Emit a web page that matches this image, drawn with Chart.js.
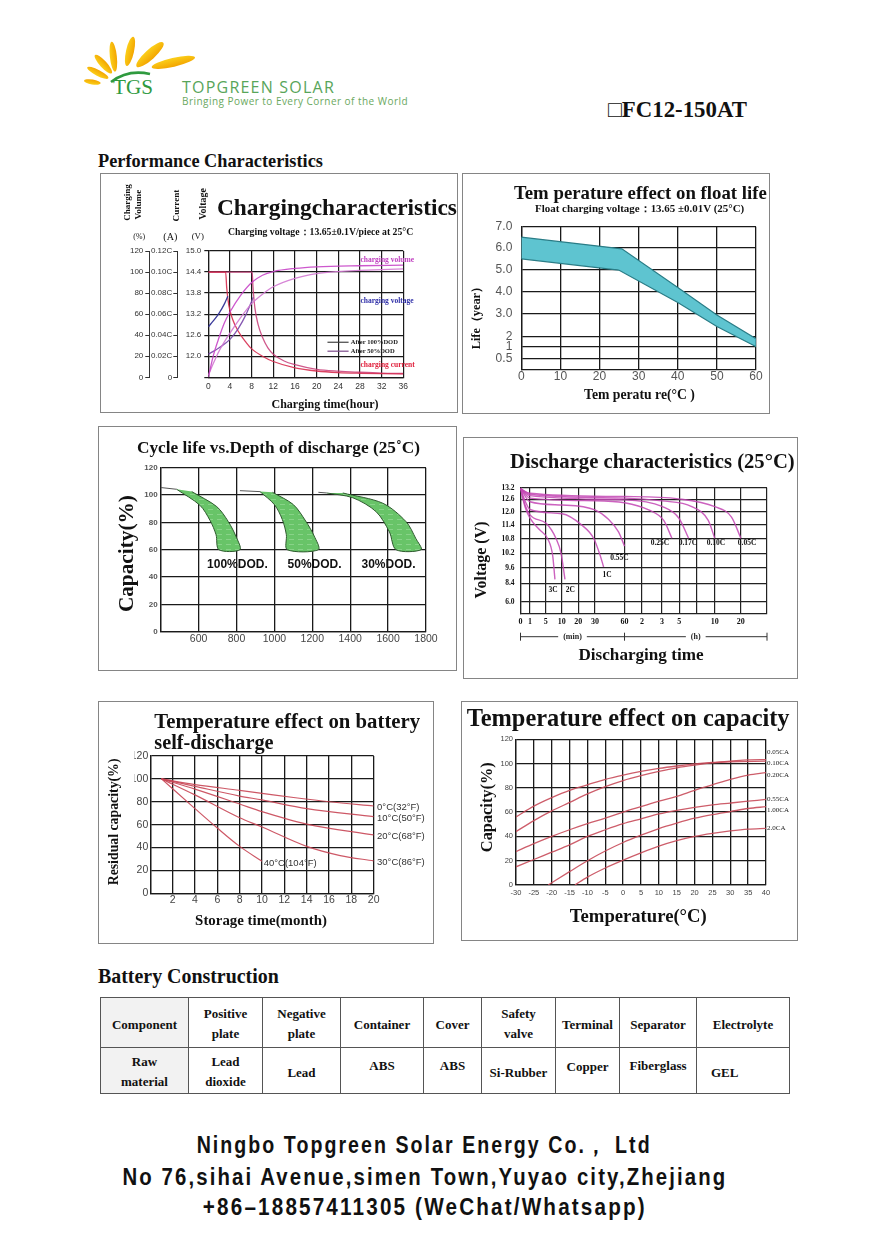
<!DOCTYPE html>
<html><head><meta charset="utf-8">
<script src="https://cdn.jsdelivr.net/npm/chart.js@4.4.0/dist/chart.umd.min.js"></script>
<style>
html,body{margin:0;padding:0;background:#fff;}
body{width:889px;height:1257px;position:relative;overflow:hidden;}
.abs{position:absolute;white-space:nowrap;line-height:1;}
.panel{position:absolute;border:1.5px solid #858585;box-sizing:border-box;}
canvas{position:absolute;}
#tbl{position:absolute;left:100px;top:997px;width:689px;border-collapse:collapse;table-layout:fixed;font-family:"Liberation Serif","Times New Roman",serif;font-weight:bold;font-size:13px;color:#111;}
#tbl td{border:1.5px solid #555;text-align:center;vertical-align:middle;line-height:20px;padding:0;}
#tbl tr.h td{height:49px;}
#tbl tr.d td{height:45px;}
#tbl td.g{background:#f2f2f2;}
#tbl span{position:relative;display:inline-block;}
</style></head>
<body>
<script>
// ===================== DATA =====================
// Charging characteristics (x: hours)
const chgVolumeA = [[0,0],[1,22],[2,38],[3,52],[4,62],[6,78],[8,90],[10,97],[12,100.5],[16,103.5],[20,105],[28,106],[36,106.5]];
const chgVolumeB = [[0,2],[1,14],[2,25],[4,42],[6,57],[8,70],[10,79],[12,86],[16,94],[20,98.5],[24,100.5],[28,101.5],[36,103]];
const chgVoltageA = [[0,12.84],[1,13.02],[2,13.23],[3,13.5],[3.6,13.71]];
const chgVoltageB = [[0,12.06],[2,12.24],[4,12.48],[5.5,12.78],[7,13.2],[8.3,13.68]];
const chgCurrentA = [[0,0.100],[3.2,0.100],[3.4,0.085],[3.8,0.068],[4.5,0.055],[5.5,0.044],[7,0.033],[8,0.027],[10,0.020],[12,0.015],[16,0.009],[20,0.006],[24,0.0045],[28,0.0038],[32,0.0034],[36,0.0032]];
const chgCurrentB = [[0,0.100],[8.1,0.100],[8.25,0.086],[8.6,0.066],[9.2,0.050],[10,0.038],[11,0.028],[12,0.022],[14,0.0155],[16,0.012],[20,0.0076],[24,0.0058],[28,0.0048],[32,0.004],[36,0.0036]];
const volumeTicks = [0,20,40,60,80,100,120];
const currentTicks = [0,0.02,0.04,0.06,0.08,0.10,0.12];
const currentTickLabels = ['0','0.02C','0.04C','0.06C','0.08C','0.10C','0.12C'];
const voltTicks = [11.4,12.0,12.6,13.2,13.8,14.4,15.0];
const voltTickLabels = ['','12.0','12.6','13.2','13.8','14.4','15.0'];

// Temperature effect on float life (x: °C, y: years)
const floatUpper = [[0,6.5],[25.7,5.95],[40,4.2],[50,2.93],[60,1.8]];
const floatLower = [[0,5.5],[24.9,5.0],[40,3.5],[50,2.43],[60,1.0]];
const floatTicks = [0.5,1,2,3,4,5,6,7];
const floatTickLabels = ['0.5','1','2','3.0','4.0','5.0','6.0','7.0'];

// Cycle life (x: cycles, y: capacity %)
const cyc100Left  = [[484,104.2],[607,92.5],[660,81.5],[692,71],[707,60]];
const cyc100Right = [[564,102.5],[696,91.5],[757,80.5],[798,69.5],[818,60]];
const cyc50Left   = [[924,102.5],[1000,93],[1042,82],[1063,71],[1068,60]];
const cyc50Right  = [[990,102],[1100,93],[1165,81],[1210,70],[1232,60]];
const cyc30Left   = [[1276,101.5],[1414,98],[1537,87.8],[1607,73],[1642,60]];
const cyc30Right  = [[1361,101.5],[1572,94],[1695,80.5],[1747,68],[1774,60]];
const cycBaseline = [[[400,105.5],[484,104.2]],[[818,103.2],[924,102.5]],[[1232,102],[1276,101.5]]];

// Discharge characteristics (x: minutes, y: volts)
const dis3C   = [[0,13.15],[0.5,12.2],[1,11.7],[3.4,11.2],[5.8,10.77],[7.2,10.1],[7.9,8.7]];
const dis2C   = [[0,13.15],[0.5,12.3],[1,11.85],[5.3,11.45],[8.2,10.83],[9.8,10.2],[12,8.7]];
const dis1C   = [[0,13.15],[0.5,12.5],[1,12.1],[10.2,11.9],[22,11.4],[29.2,10.83],[35.4,10.1],[38.8,9.63]];
const dis055C = [[0,13.15],[1,12.48],[10.2,12.32],[30,12.08],[43.7,11.65],[53.9,11.1],[60,10.5]];
const dis025C = [[0,13.15],[1,12.66],[30,12.53],[60,12.43],[140,12.08],[192,11.6],[249,10.83]];
const dis017C = [[0,13.15],[1,12.79],[60,12.57],[180,12.25],[298,11.7],[364,10.83]];
const dis010C = [[0,13.15],[1,12.86],[60,12.66],[180,12.52],[386,12.24],[535,11.6],[600,10.83]];
const dis005C = [[0,13.15],[1,12.91],[60,12.74],[295,12.62],[600,12.24],[985,11.75],[1200,10.83]];
const disTimeTicks  = [0,1,5,10,20,30,60,120,180,300,420,600,1200,2400];
const disTimeLabels = ['0','1','5','10','20','30','60','2','3','5','','10','20',''];
const disVoltTicks = [6.0,8.4,9.6,10.2,10.8,11.4,12.0,12.6,13.2];

// Self-discharge (x: months, y: residual %)
const sd0C  = [[1,100],[4,95],[8,90],[10,87.4],[13,83.5],[16,80],[20,76.3]];
const sd10C = [[1,100],[4,93.5],[8,85],[10,81.6],[14,74],[20,67]];
const sd20C = [[1,100],[4,91],[8,78],[10,71.4],[14,60.5],[20,51]];
const sd30C = [[1,100],[4,86],[8,66],[10,58],[14,41],[17,33],[20,28.3]];
const sd40C = [[1,100],[4,74],[6,57],[8,41],[10,28]];

// Temperature effect on capacity (x: °C, y: %)
const tc005 = [[-30,56],[-25,65],[-20,72],[-15,78],[-10,82.5],[-5,87],[0,90.5],[5,93.5],[10,96],[15,98],[20,99.7],[25,101],[30,102],[35,103],[40,103.3]];
const tc010 = [[-30,44],[-25,53],[-20,61],[-15,68],[-10,75],[-5,81],[0,86],[5,90],[10,93.5],[15,96.5],[20,98.7],[25,100.5],[30,101.5],[40,102]];
const tc020 = [[-30,27.5],[-25,34],[-20,40],[-15,45.5],[-10,50.5],[-5,55],[0,60],[5,64.5],[10,69],[15,73],[20,78],[25,82.5],[30,87],[35,90.5],[40,92.5]];
const tc055 = [[-30,15],[-25,21],[-20,27],[-15,33],[-10,40],[-5,45.5],[0,50.5],[5,54.5],[10,58.5],[15,61.5],[20,64],[25,66],[30,67.5],[35,69],[40,70.5]];
const tc100 = [[-21,0],[-15,11],[-10,20],[-5,28],[0,35],[5,41],[10,46.5],[15,51],[20,55],[25,58],[30,60.5],[35,63],[40,64.5]];
const tc200 = [[-13.5,0],[-10,6.5],[-5,14],[0,20.5],[5,26.5],[10,32],[15,36.5],[20,40],[25,42.5],[30,44.5],[35,46],[40,46.7]];

// ===================== LAYOUT / STYLE =====================
const SERIF = '"Liberation Serif","Times New Roman",serif';
const SANS = '"Liberation Sans",Arial,sans-serif';
const NARROW = '"Liberation Sans Narrow","Liberation Sans",Arial,sans-serif';
Chart.defaults.font.family = SANS;
Chart.defaults.animation = false;

// non-linear axes of the original drawings: value -> fraction of axis length
const KNOTS = {
  floatY: [[0,0],[0.5,0.077],[1,0.159],[2,0.229],[3,0.393],[4,0.544],[5,0.696],[6,0.853],[7,1]],
  disX: [[0,0],[1,0.0385],[5,0.102],[10,0.167],[20,0.234],[30,0.302],[60,0.422],[120,0.493],[180,0.574],[300,0.644],[420,0.715],[600,0.788],[1200,0.894],[2400,1]],
  disY: [[4.5,0],[6.0,0.092],[8.4,0.239],[9.6,0.363],[10.2,0.478],[10.8,0.592],[11.4,0.704],[12.0,0.810],[12.6,0.908],[13.2,1]]
};
class WarpScale extends Chart.LinearScale {
  static id = 'warp';
  static defaults = {};
  _interp(v, a, b) {
    const k = KNOTS[this.options.knotSet];
    let i = 1; while (i < k.length - 1 && v > k[i][a]) i++;
    const p = k[i-1], q = k[i];
    return p[b] + (v - p[a]) * (q[b] - p[b]) / (q[a] - p[a]);
  }
  getPixelForValue(v) {
    if (v === null || v === undefined || isNaN(v)) return NaN;
    return this.getPixelForDecimal(this._interp(v, 0, 1));
  }
  getValueForPixel(px) { return this._interp(this.getDecimalForPixel(px), 1, 0); }
}
Chart.register(WarpScale);

const fixW = w => s => { s.width = w; s.paddingTop = s.paddingBottom = s.paddingLeft = s.paddingRight = 0; };
const fixH = h => s => { s.height = h; s.paddingTop = s.paddingBottom = s.paddingLeft = s.paddingRight = 0; };
const setTicks = arr => s => { s.ticks = arr.map(v => ({value: v})); };

function panel(x, y, w, h) {
  const d = document.createElement('div'); d.className = 'panel';
  Object.assign(d.style, {left: x+'px', top: y+'px', width: w+'px', height: h+'px'});
  document.body.appendChild(d);
}
function notes(items) {
  return { id: 'notes', afterDatasetsDraw(chart) {
    const ctx = chart.ctx; ctx.save();
    for (const it of items) {
      const xs = chart.scales[it.xs || 'x'], ys = chart.scales[it.ys || 'y'];
      const px = xs.getPixelForValue(it.x), py = ys.getPixelForValue(it.y);
      if (it.x2 !== undefined) {
        ctx.strokeStyle = it.lc; ctx.lineWidth = 1.2; ctx.beginPath();
        ctx.moveTo(px, py); ctx.lineTo(xs.getPixelForValue(it.x2), py); ctx.stroke();
      }
      if (it.t) {
        ctx.font = it.f; ctx.fillStyle = it.c || '#222'; ctx.textAlign = it.al || 'left'; ctx.textBaseline = 'middle';
        ctx.fillText(it.t, px, py);
      }
    }
    ctx.restore();
  }};
}
function mk(rect, area, wy, hx, cfg, plugins) {
  const c = document.createElement('canvas');
  c.width = rect[2]; c.height = rect[3];
  Object.assign(c.style, {left: rect[0]+'px', top: rect[1]+'px', width: rect[2]+'px', height: rect[3]+'px'});
  document.body.appendChild(c);
  cfg.options = Object.assign({
    responsive: false, animation: false, events: [],
    layout: {padding: {left: area[0]-rect[0]-wy, top: area[1]-rect[1], right: rect[0]+rect[2]-area[2], bottom: rect[1]+rect[3]-area[3]-hx}},
    plugins: {legend: {display: false}, tooltip: {enabled: false}},
    elements: {point: {radius: 0}}
  }, cfg.options || {});
  cfg.plugins = plugins || [];
  return new Chart(c, cfg);
}
const G = (c, lw, extra) => Object.assign({color: c || '#1a1a1a', lineWidth: lw || 1.2, drawTicks: false}, extra || {});
const B = (c, w) => ({color: c || '#1a1a1a', width: w || 1.2});
const line = (data, color, w, extra) => Object.assign({data, borderColor: color, borderWidth: w || 1.2, pointRadius: 0, fill: false, cubicInterpolationMode: 'monotone'}, extra || {});

// panels
panel(100,173,358,240); panel(462,173,308,241); panel(98,425.5,359,245.5);
panel(463,436.5,335,242); panel(97.5,700.5,336.5,243); panel(460.5,700.5,337,240);

// ---------- Chart 1: charging ----------
const lblF1 = {size: 8, family: SANS};
mk([101,174,356,238],[208.3,251,403.3,377.3],88,16,{
  type: 'line',
  data: {datasets: [
    line(chgVolumeA,'rgba(200,70,200,0.9)',1.3,{yAxisID:'yP'}),
    line(chgVolumeB,'rgba(210,120,210,0.9)',1.3,{yAxisID:'yP'}),
    line(chgVoltageA,'rgba(50,50,150,0.95)',1.3,{yAxisID:'yV'}),
    line(chgVoltageB,'rgba(120,70,170,0.9)',1.3,{yAxisID:'yV'}),
    line(chgCurrentA,'rgba(215,45,80,0.9)',1.3,{yAxisID:'yA'}),
    line(chgCurrentB,'rgba(200,60,120,0.85)',1.3,{yAxisID:'yA'})
  ]},
  options: {scales: {
    x: {type:'linear', min:0, max:36, ticks:{stepSize:4, color:'#333', font:{size:8.5, family:SANS}, padding:4, maxRotation:0, autoSkip:false}, grid:G(), border:B(), afterFit:fixH(16)},
    yV: {type:'linear', position:'left', weight:1, min:11.4, max:15.0, afterBuildTicks:setTicks(voltTicks), ticks:{callback:(v,i)=>voltTickLabels[i], color:'#333', font:lblF1, padding:3, autoSkip:false}, grid:G('#1a1a1a',1.2,{drawTicks:true, tickLength:4}), border:B(), afterFit:fixW(31)},
    yA: {type:'linear', position:'left', weight:2, min:0, max:0.12, afterBuildTicks:setTicks(currentTicks), ticks:{callback:(v,i)=>currentTickLabels[i], color:'#333', font:lblF1, padding:1, autoSkip:false}, grid:G('#333',1,{drawOnChartArea:false, drawTicks:true, tickLength:4}), border:B('#333',1), afterFit:fixW(28)},
    yP: {type:'linear', position:'left', weight:3, min:0, max:120, afterBuildTicks:setTicks(volumeTicks), ticks:{color:'#333', font:lblF1, padding:2, autoSkip:false}, grid:G('#333',1,{drawOnChartArea:false, drawTicks:true, tickLength:4}), border:B('#333',1), afterFit:fixW(29)}
  }}
},[notes([
  {x:28.1, y:111.4, ys:'yP', t:'charging volume', f:'bold 7.5px '+SERIF, c:'#c040c0'},
  {x:28.1, y:72.4, ys:'yP', t:'charging voltage', f:'bold 7.5px '+SERIF, c:'#3030a8'},
  {x:28.1, y:11.4, ys:'yP', t:'charging current', f:'bold 7.5px '+SERIF, c:'#e0203c'},
  {x:22.0, x2:25.9, y:33.3, ys:'yP', lc:'#444', t:'', f:''},
  {x:22.0, x2:25.9, y:24.8, ys:'yP', lc:'#7a4a8a', t:'', f:''},
  {x:26.3, y:33.3, ys:'yP', t:'After 100%DOD', f:'bold 6.5px '+SERIF, c:'#222'},
  {x:26.3, y:24.8, ys:'yP', t:'After 50%DOD', f:'bold 6.5px '+SERIF, c:'#222'}
])]);

// ---------- Chart 2: float life ----------
mk([464,174,305,238],[521.3,226.7,756,369.3],40,20,{
  type: 'line',
  data: {datasets: [
    {data: floatUpper.concat(floatLower.slice().reverse()), fill:'shape', backgroundColor:'#5ec4d0', borderColor:'#2a7d87', borderWidth:1.2, tension:0, pointRadius:0}
  ]},
  options: {scales: {
    x: {type:'linear', min:0, max:60, ticks:{stepSize:10, color:'#555', font:{size:12, family:SANS}, padding:0, maxRotation:0}, grid:G('#1a1a1a',1.3), border:B('#1a1a1a',1.3), afterFit:fixH(20)},
    y: {type:'warp', knotSet:'floatY', min:0, max:7, afterBuildTicks:setTicks(floatTicks), ticks:{callback:(v,i)=>floatTickLabels[i], color:'#555', font:{size:12, family:SANS}, padding:9, autoSkip:false}, grid:G('#1a1a1a',1.3), border:B('#1a1a1a',1.3), afterFit:fixW(40)}
  }}
});

// ---------- Chart 3: cycle life ----------
function hatch() {
  const c = document.createElement('canvas'); c.width = 9; c.height = 5;
  const g = c.getContext('2d'); g.fillStyle = '#68c468'; g.fillRect(0,0,9,5);
  g.fillStyle = 'rgba(220,250,220,0.28)'; g.fillRect(1,2,5,1);
  return g.createPattern(c, 'repeat');
}
const pat = hatch();
const band = (l, r) => ({data: l.concat(r.slice().reverse()), fill:'shape', backgroundColor:pat, borderColor:'#2f5a2f', borderWidth:1, tension:0.3, pointRadius:0});
mk([99,427,357,243],[160.7,467.7,426,631.7],20,16,{
  type: 'line',
  data: {datasets: [
    band(cyc100Left, cyc100Right), band(cyc50Left, cyc50Right), band(cyc30Left, cyc30Right),
    ...cycBaseline.map(seg => ({data: seg, borderColor:'#555', borderWidth:1, pointRadius:0, tension:0, fill:false}))
  ]},
  options: {scales: {
    x: {type:'linear', min:400, max:1800, ticks:{stepSize:200, callback:v=>v===400?'':v, color:'#444', font:{size:10.5, family:SANS}, padding:1, maxRotation:0, autoSkip:false}, grid:G('#1a1a1a',1.3), border:B('#1a1a1a',1.3), afterFit:fixH(16)},
    y: {type:'linear', min:0, max:120, ticks:{stepSize:20, color:'#555', font:{size:8, family:NARROW, weight:'bold'}, padding:3}, grid:G('#1a1a1a',1.3), border:B('#1a1a1a',1.3), afterFit:fixW(20)}
  }}
},[notes([
  {x:805, y:48.8, t:'100%DOD.', f:'bold 12px '+SANS, c:'#111', al:'center'},
  {x:1212, y:48.8, t:'50%DOD.', f:'bold 12px '+SANS, c:'#111', al:'center'},
  {x:1602, y:48.8, t:'30%DOD.', f:'bold 12px '+SANS, c:'#111', al:'center'}
])]);

// ---------- Chart 4: discharge ----------
const dc = 'rgba(195,70,180,0.85)';
const bracket = { id:'bracket', afterDraw(chart) {
  const ctx = chart.ctx, xs = chart.scales.x, a = chart.chartArea;
  const y = a.bottom + 23.4, x0 = xs.getPixelForValue(0), x1 = xs.getPixelForValue(60), x2 = a.right;
  ctx.save(); ctx.strokeStyle = '#333'; ctx.lineWidth = 1; ctx.font = 'bold 8px '+SERIF; ctx.fillStyle = '#222';
  ctx.textAlign = 'center'; ctx.textBaseline = 'middle';
  const seg = (l, r, t) => { const m = (l + r) / 2, hw = ctx.measureText(t).width / 2 + 5;
    ctx.beginPath(); ctx.moveTo(l, y); ctx.lineTo(m - hw, y); ctx.moveTo(m + hw, y); ctx.lineTo(r, y); ctx.stroke();
    ctx.fillText(t, m, y); };
  seg(x0, x1, '(min)'); seg(x1, x2, '(h)');
  ctx.beginPath(); for (const x of [x0, x1, x2]) { ctx.moveTo(x, y - 4); ctx.lineTo(x, y + 4); } ctx.stroke();
  ctx.restore();
}};
const dF = 'bold 7.5px '+SERIF;
mk([465,438,332,240],[520.5,487.7,767,613.3],22,14,{
  type: 'line',
  data: {datasets: [dis3C, dis2C, dis1C, dis055C, dis025C, dis017C, dis010C, dis005C].map(d => line(d, dc, 1.4))},
  options: {scales: {
    x: {type:'warp', knotSet:'disX', min:0, max:2400, afterBuildTicks:setTicks(disTimeTicks), ticks:{callback:(v,i)=>disTimeLabels[i], color:'#111', font:{size:8, family:SERIF, weight:'bold'}, padding:4, maxRotation:0, autoSkip:false}, grid:G('#222',1.2), border:B('#222',1.2), afterFit:fixH(14)},
    y: {type:'warp', knotSet:'disY', min:4.5, max:13.2, afterBuildTicks:setTicks(disVoltTicks), ticks:{callback:v=>v.toFixed(1), color:'#111', font:{size:7.5, family:SERIF, weight:'bold'}, padding:6, autoSkip:false}, grid:G('#222',1.2), border:B('#222',1.2), afterFit:fixW(22)}
  }}
},[bracket, notes([
  {x:174, y:10.63, t:'0.25C', f:dF, al:'center', c:'#111'},
  {x:360, y:10.63, t:'0.17C', f:dF, al:'center', c:'#111'},
  {x:628, y:10.63, t:'0.10C', f:dF, al:'center', c:'#111'},
  {x:1483, y:10.63, t:'0.05C', f:dF, al:'center', c:'#111'},
  {x:54.9, y:10.0, t:'0.55C', f:dF, al:'center', c:'#111'},
  {x:42.2, y:9.04, t:'1C', f:dF, al:'center', c:'#111'},
  {x:7.3, y:7.53, t:'3C', f:dF, al:'center', c:'#111'},
  {x:15.3, y:7.53, t:'2C', f:dF, al:'center', c:'#111'}
])]);

// ---------- Chart 5: self-discharge ----------
const sc = 'rgba(200,70,85,0.9)';
const sF = '9.5px '+SANS;
mk([99,702,334,241],[150.3,756,373.7,893.3],16,16,{
  type: 'line',
  data: {datasets: [sd0C, sd10C, sd20C, sd30C, sd40C].map(d => line(d, sc, 1.2))},
  options: {scales: {
    x: {type:'linear', min:0, max:20, ticks:{stepSize:2, callback:v=>v===0?'':v, color:'#444', font:{size:10.5, family:SANS}, padding:1, maxRotation:0, autoSkip:false}, grid:G('#1a1a1a',1.3), border:B('#1a1a1a',1.3), afterFit:fixH(16)},
    y: {type:'linear', min:0, max:120, ticks:{stepSize:20, color:'#444', font:{size:10.5, family:SANS}, padding:2}, grid:G('#1a1a1a',1.3), border:B('#1a1a1a',1.3), afterFit:fixW(16)}
  }}
},[notes([
  {x:20.3, y:75.4, t:'0°C(32°F)', f:sF, c:'#333'},
  {x:20.3, y:65.5, t:'10°C(50°F)', f:sF, c:'#333'},
  {x:20.3, y:49.5, t:'20°C(68°F)', f:sF, c:'#333'},
  {x:20.3, y:26.7, t:'30°C(86°F)', f:sF, c:'#333'},
  {x:10.15, y:26.2, t:'40°C(104°F)', f:sF, c:'#333'}
])]);

// ---------- Chart 6: temperature vs capacity ----------
const tcc = 'rgba(200,75,90,0.9)';
const tF = '7px '+SERIF;
mk([462,702,335,238],[516,739.3,766,885],16,12,{
  type: 'line',
  data: {datasets: [tc005, tc010, tc020, tc055, tc100, tc200].map(d => line(d, tcc, 1.3))},
  options: {scales: {
    x: {type:'linear', min:-30, max:40, ticks:{stepSize:5, color:'#444', font:{size:7.5, family:NARROW}, padding:3, maxRotation:0, autoSkip:false}, grid:G('#1a1a1a',1.3), border:B('#1a1a1a',1.3), afterFit:fixH(12)},
    y: {type:'linear', min:0, max:120, ticks:{stepSize:20, color:'#444', font:{size:7.5, family:NARROW}, padding:3}, grid:G('#1a1a1a',1.3), border:B('#1a1a1a',1.3), afterFit:fixW(16)}
  }}
},[notes([
  {x:40.3, y:109.8, t:'0.05CA', f:tF, c:'#222'},
  {x:40.3, y:100.7, t:'0.10CA', f:tF, c:'#222'},
  {x:40.3, y:90.6, t:'0.20CA', f:tF, c:'#222'},
  {x:40.3, y:70.6, t:'0.55CA', f:tF, c:'#222'},
  {x:40.3, y:61.8, t:'1.00CA', f:tF, c:'#222'},
  {x:40.3, y:46.7, t:'2.0CA', f:tF, c:'#222'}
])]);

// ===================== TEXT =====================
function T(s, x, y, o) {
  const e = document.createElement('div');
  e.className = 'abs'; e.textContent = s;
  e.style.fontFamily = o.fam || SERIF; e.style.fontWeight = o.wt || 700;
  e.style.fontSize = o.fs + 'px'; e.style.color = o.col || '#111';
  if (o.ls) e.style.letterSpacing = o.ls + 'px';
  document.body.appendChild(e);
  let w = e.getBoundingClientRect().width;
  let tf = '';
  if (o.w) {
    if (o.fit === 'ls') { e.style.letterSpacing = ((o.w - w) / [...s].length) + 'px'; w = e.getBoundingClientRect().width; }
    else if (o.fit === 'sx') { tf = ` scaleX(${o.w / w})`; }
    else { e.style.fontSize = (o.fs * o.w / w) + 'px'; w = e.getBoundingClientRect().width; }
  }
  const h = e.getBoundingClientRect().height;
  const centered = o.al === 'c' || o.rot || o.fit === 'sx';
  const cx = (o.fit === 'sx' && o.al !== 'c') ? x + o.w / 2 : x;
  e.style.left = (centered ? cx - w / 2 : x) + 'px';
  e.style.top = (y - h / 2) + 'px';
  e.style.transform = (o.rot ? 'rotate(-90deg)' : '') + tf;
}
const FOOT = '"Liberation Sans",Arial,sans-serif';
const texts = [
  ['TOPGREEN SOLAR', 182, 86.5, {w:153, fs:16, fam:'"Open Sans",sans-serif', wt:400, col:'#58a55a', fit:'ls'}],
  ['Bringing Power to Every Corner of the World', 182, 101, {w:226, fs:10, fam:'"Open Sans",sans-serif', wt:400, col:'#6aa85e', fit:'ls'}],
  ['TGS', 113, 88, {w:40, fs:22, wt:400, col:'#2f9a3f'}],
  ['\u25A1FC12-150AT', 608, 110, {w:139, fs:18}],
  ['Performance Characteristics', 98, 161, {w:225, fs:16}],
  ['Chargingcharacteristics', 217, 208, {w:240, fs:23}],
  ['Charging voltage\uFF1A13.65\u00B10.1V/piece at 25\u00B0C', 228, 232, {w:185, fs:9}],
  ['Charging', 127.8, 203, {w:36.7, fs:9, rot:true}],
  ['Volume', 139.2, 205, {w:30, fs:9.5, rot:true}],
  ['Current', 176.7, 205.8, {w:31.7, fs:11.5, rot:true}],
  ['Voltage', 202.8, 204, {w:31.7, fs:11, rot:true}],
  ['(%)', 139.2, 236.7, {w:11.7, fs:9, wt:400, al:'c'}],
  ['(A)', 170.3, 236.7, {w:14, fs:9, wt:400, al:'c'}],
  ['(V)', 197.8, 236.7, {w:12.3, fs:9, wt:400, al:'c'}],
  ['Charging time(hour)', 325, 404, {w:107, fs:12, al:'c'}],
  ['Tem perature   effect  on  float   life', 514, 193, {w:253, fs:15.5}],
  ['Float charging voltage\uFF1A13.65 \u00B10.01V (25\u00B0C)', 535, 208, {w:210, fs:9.5}],
  ['Tem peratu  re(\u00B0C  )', 584, 395, {w:111, fs:11.5}],
  ['Life\uFF08year\uFF09', 476, 315, {w:70, fs:11.5, rot:true}],
  ['Cycle life vs.Depth of discharge (25\u02DAC)', 137, 448, {w:283, fs:14.5}],
  ['Capacity(%)', 126, 553.5, {w:117, fs:21, rot:true}],
  ['Discharge characteristics (25\u00B0C)', 510, 461, {w:285, fs:19.5}],
  ['Voltage (V)', 481, 560, {w:77, fs:15, rot:true}],
  ['Discharging time', 641, 655, {w:125, fs:16, al:'c'}],
  ['Temperature effect on battery', 154.3, 721.7, {w:266, fs:20}],
  ['self-discharge', 154.3, 741.7, {w:119.4, fs:20}],
  ['Residual capacity(%)', 113.5, 821.5, {w:127, fs:14, rot:true}],
  ['Storage time(month)', 261, 920, {w:132, fs:13, al:'c'}],
  ['Temperature effect on capacity', 466.7, 718.3, {w:323, fs:23}],
  ['Capacity(%)', 486.7, 806.7, {w:90, fs:18, rot:true}],
  ['Temperature(\u00B0C)', 638.3, 916.7, {w:137, fs:17, al:'c'}],
  ['Battery Construction', 98, 977, {w:181, fs:17}],
  ['Ningbo Topgreen Solar Energy Co.\uFF0C Ltd', 424.5, 1145, {w:455, fs:23, ls:2.4, fam:FOOT, al:'c', fit:'sx'}],
  ['No 76,sihai Avenue,simen Town,Yuyao city,Zhejiang', 424.5, 1177, {w:605, fs:23, ls:2.4, fam:FOOT, al:'c', fit:'sx'}],
  ['+86\u201318857411305 (WeChat/Whatsapp)', 425, 1207, {w:444, fs:23, ls:2.4, fam:FOOT, al:'c', fit:'sx'}]
];
texts.forEach(t => T(t[0], t[1], t[2], t[3]));

// logo rays
(function(){
  const rays = [[[100.7,83.3],[84,80.7],2.5],[[108.3,78.3],[87.3,67.3],3],[[111.7,73.3],[95,55],3.5],[[115,71.7],[111.7,41.7],3.5],[[126.7,66],[133.3,36.7],4],[[136.7,66.7],[163.3,42.7],5],[[151.7,67.3],[195,57.3],4.5]];
  let s = '<svg xmlns="http://www.w3.org/2000/svg" width="889" height="130" style="position:absolute;left:0;top:0">';
  s += '<defs><linearGradient id="ry" x1="0" y1="1" x2="0" y2="0"><stop offset="0" stop-color="#f3a500"/><stop offset="1" stop-color="#fbcf1a"/></linearGradient></defs>';
  for (const [p, q, hw] of rays) {
    const cx = (p[0]+q[0])/2, cy = (p[1]+q[1])/2, L = Math.hypot(q[0]-p[0], q[1]-p[1]) / 2;
    const a = Math.atan2(q[1]-p[1], q[0]-p[0]) * 180 / Math.PI;
    s += `<ellipse cx="${cx}" cy="${cy}" rx="${L}" ry="${hw}" fill="url(#ry)" transform="rotate(${a} ${cx} ${cy})"/>`;
  }
  s += '<path d="M111 82 Q128 69 150 74" fill="none" stroke="#2f9a3f" stroke-width="2.6"/>';
  s += '</svg>';
  document.body.insertAdjacentHTML('beforeend', s);
})();
</script>
<table id="tbl">
<colgroup><col style="width:88px"><col style="width:74px"><col style="width:78px"><col style="width:83px"><col style="width:58px"><col style="width:74px"><col style="width:64px"><col style="width:77px"><col style="width:93px"></colgroup>
<tr class="h"><td class="g"><span style="top:2px">Component</span></td><td><span style="top:1px">Positive<br>plate</span></td><td><span style="top:1px">Negative<br>plate</span></td><td><span style="top:2px">Container</span></td><td><span style="top:2px">Cover</span></td><td><span style="top:1px">Safety<br>valve</span></td><td><span style="top:2px">Terminal</span></td><td><span style="top:2px">Separator</span></td><td><span style="top:2px">Electrolyte</span></td></tr>
<tr class="d"><td class="g"><span style="top:1px">Raw<br>material</span></td><td><span style="top:1px">Lead<br>dioxide</span></td><td><span style="top:2px">Lead</span></td><td><span style="top:-5px">ABS</span></td><td><span style="top:-5px">ABS</span></td><td><span style="top:2px">Si-Rubber</span></td><td><span style="top:-4px">Copper</span></td><td><span style="top:-5px">Fiberglass</span></td><td style="text-align:left;padding-left:14px"><span style="top:2px">GEL</span></td></tr>
</table>
</body></html>
